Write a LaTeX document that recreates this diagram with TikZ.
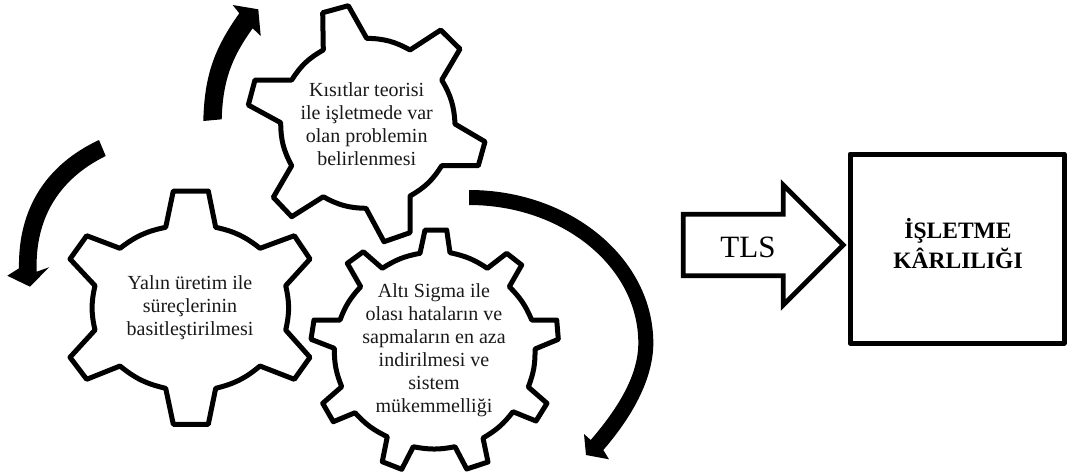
\documentclass[tikz,border=0pt]{standalone}
\usepackage{fontspec}
\setmainfont{Liberation Serif}
\tikzset{
  gear/.style={draw=black,fill=white,line width=5pt,line join=round},
  blockarrow/.style={fill=black,draw=none},
  gearlabel/.style={align=center,inner sep=0pt,text=black!90,font=\fontsize{20}{23}\selectfont},
  tlsshape/.style={draw=black,fill=white,line width=4.8pt,line join=miter},
  bigbox/.style={draw=black,fill=white,line width=5pt,line join=round,outer sep=0pt},
}
\begin{document}
\begin{tikzpicture}[x=1pt,y=-1pt]
\useasboundingbox (0,0) rectangle (1067,475);
% top gear
\draw[gear] (322.7,12.7) -- (348.3,5.7) -- (366.7,38.3) to[bend left=14] (410,50) -- (440.7,30) -- (460,49) -- (441.7,80)
  to[bend left=14] (455,124) -- (485,141.7) -- (478.3,165.7) -- (441.7,165.7)
  to[bend left=14] (410,196) -- (410,232.7) -- (384,241.7) -- (366,208.3)
  to[bend left=14] (323.3,196.7) -- (291.7,216.7) -- (273.3,197.3) -- (291.7,165.7)
  to[bend left=14] (280.7,122.7) -- (248.3,105) -- (255,80) -- (291.7,80)
  to[bend left=14] (323.3,50) -- cycle;
% left gear
\draw[gear] (173.3,191) -- (208.3,191) -- (215.7,227.3) to[bend left=13] (260,248.3) -- (294.3,235.7) -- (310,259) -- (285.7,285.7)
  to[bend left=13] (285.7,330) -- (310,357.3) -- (294.3,379.3) -- (260,366)
  to[bend left=13] (215.7,388.3) -- (208.3,424.3) -- (173.3,424.3) -- (165.7,388.3)
  to[bend left=13] (120,366) -- (86.7,379.3) -- (70,357.3) -- (95,330)
  to[bend left=13] (95,285.7) -- (70,259) -- (86.7,235.7) -- (120,248.3)
  to[bend left=13] (165.7,227.3) -- cycle;
% lower gear
\draw[gear] (425,230) -- (446.7,230) -- (450,252.7) to[bend left=11] (487.3,268.3) -- (506.7,253.3) -- (521.7,265) -- (509.3,286.7)
  to[bend left=11] (531.7,320) -- (556.7,320) -- (558.3,339.3) -- (535,349)
  to[bend left=11] (528.3,387) -- (547,403.3) -- (536,421) -- (513,411.7)
  to[bend left=11] (483,438) -- (488,462) -- (466.7,469) -- (455,446.7)
  to[bend left=11] (413.3,446.7) -- (401.7,469.3) -- (382.3,461.7) -- (387.3,436.7)
  to[bend left=11] (355,412.7) -- (333.3,421.7) -- (322.7,403.3) -- (341.7,386.7)
  to[bend left=11] (334.3,348.3) -- (311,339.3) -- (314,320) -- (340,320)
  to[bend left=11] (360.7,286.7) -- (347.3,263.3) -- (363.3,251.7) -- (382.3,268.3)
  to[bend left=11] (420,253.3) -- cycle;
% curved arrows
\fill[blockarrow] (203.3,121) to[bend left=17] (239.3,13.3) -- (232.7,5) -- (258.3,9.3) -- (260.7,36) -- (252.7,28.3) to[bend right=17] (221.7,119.3) -- cycle;
\fill[blockarrow] (99,140) to[bend right=33] (19,268.3) -- (7.3,275.7) -- (30,286.7) -- (49,267.3) -- (36.7,271.7) to[bend left=33] (105.7,156) -- cycle;
\fill[blockarrow] (469,190) .. controls (570.6,190) and (653.3,258.5) .. (653.3,343) .. controls (653.3,380) and (631,418) .. (603.3,450)
  -- (609,459.3) -- (586,455) -- (584,434) -- (590.7,440)
  .. controls (614.7,412) and (638.3,378) .. (638.3,343) .. controls (638.3,266.8) and (562.4,205) .. (469,205) -- cycle;
% labels
\node[gearlabel] (topgear) at (366.7,124) {Kısıtlar teorisi\\ile işletmede var\\olan problemin\\belirlenmesi};
\node[gearlabel] (leftgear) at (190,308) {Yalın üretim ile\\süreçlerinin\\basitleştirilmesi};
\node[gearlabel] (lowgear) at (434,350) {Altı Sigma ile\\olası hataların ve\\sapmaların en aza\\indirilmesi ve\\sistem\\mükemmelliği};
% TLS arrow
\draw[tlsshape] (683.3,214.3) -- (783.3,214.3) -- (783.3,185) -- (843.3,245) -- (783.3,305) -- (783.3,275.7) -- (683.3,275.7) -- cycle;
\node[inner sep=0pt,font=\fontsize{31}{34}\selectfont] (tls) at (748,247) {TLS};
% box
\node[bigbox,minimum width=214pt,minimum height=189pt,inner sep=0pt,anchor=north west] (kar) at (850,154) {};
\node[inner sep=0pt,align=center,font=\fontsize{23.5}{30}\bfseries\selectfont] (karlabel) at (958,244) {İŞLETME\\KÂRLILIĞI};
\end{tikzpicture}
\end{document}
